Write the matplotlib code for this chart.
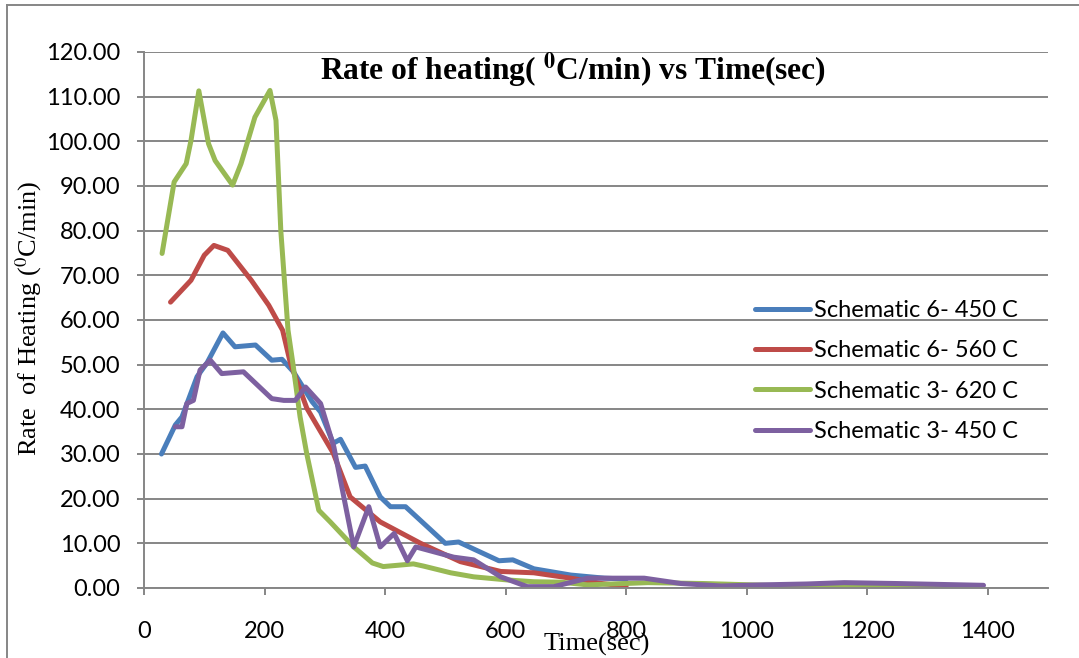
import matplotlib
matplotlib.use("Agg")
import matplotlib.pyplot as plt
from matplotlib.lines import Line2D

plt.rcParams['mathtext.fontset'] = 'stix'

# ---- data ----
t_s6_450 = [29, 52, 63, 88, 105, 131, 151, 185, 212, 229, 248, 279, 293, 314, 326,
            351, 367, 392, 409, 434, 500, 522, 589, 612, 647, 708, 764, 800]
r_s6_450 = [30.0, 36.5, 38.3, 47.3, 50.5, 57.1, 54.0, 54.4, 51.0, 51.2, 48.4, 41.7, 39.4, 32.4, 33.3,
            27.0, 27.3, 20.4, 18.2, 18.2, 10.0, 10.3, 6.1, 6.3, 4.3, 2.9, 2.2, 2.0]

t_s6_560 = [44, 78, 100, 116, 139, 178, 207, 230, 243, 270, 314, 342, 392, 459, 525,
            592, 647, 708, 760, 800]
r_s6_560 = [64.0, 68.9, 74.5, 76.7, 75.6, 68.9, 63.3, 57.7, 50.3, 40.3, 30.2, 20.4, 14.8, 10.0, 5.9,
            3.7, 3.4, 2.2, 1.0, 0.4]

t_s3_620 = [30, 50, 70, 78, 91, 107, 118, 147, 161, 184, 209, 219, 227, 239, 247,
            259, 270, 290, 309, 348, 379, 397, 447, 464, 509, 547, 603, 647, 692,
            736, 836, 930, 1060, 1200, 1353]
r_s3_620 = [74.9, 90.9, 95.0, 100.2, 111.3, 99.5, 95.7, 90.2, 95.0, 105.4, 111.4, 104.7, 80.0, 57.7, 50.3,
            38.3, 30.1, 17.4, 14.8, 9.2, 5.6, 4.8, 5.4, 4.9, 3.4, 2.5, 1.8, 1.4, 1.3,
            0.7, 1.2, 1.0, 0.5, 0.3, 0.1]

t_s3_450 = [52, 63, 71, 82, 93, 110, 129, 165, 212, 232, 251, 268, 293, 315, 348,
            373, 392, 415, 437, 451, 514, 547, 592, 636, 680, 736, 830, 891, 958,
            1024, 1100, 1162, 1250, 1393]
r_s3_450 = [36.1, 36.1, 41.3, 42.0, 48.8, 51.0, 48.0, 48.4, 42.4, 42.0, 42.0, 45.0, 41.3, 31.6, 9.2,
            18.2, 9.2, 12.2, 6.1, 9.2, 6.9, 6.3, 2.5, 0.3, 0.3, 2.2, 2.2, 1.0, 0.45,
            0.7, 0.9, 1.2, 1.0, 0.6]

series_labels = ["Schematic 6- 450 C", "Schematic 6- 560 C",
                 "Schematic 3- 620 C", "Schematic 3- 450 C"]
series_colors = ["#4A7EBB", "#BE4B48", "#98B954", "#7D60A0"]

x_ticks = [0, 200, 400, 600, 800, 1000, 1200, 1400]
y_ticks = list(range(0, 121, 10))

W, H = 1079, 658
grid_col = "#868686"
sans = "Lato"
serif = "Liberation Serif"

fig = plt.figure(figsize=(W / 100, H / 100), dpi=100)
ax = fig.add_axes([144 / W, 1 - 588 / H, (1048 - 144) / W, (588 - 52) / H])

series = [(t_s6_450, r_s6_450), (t_s6_560, r_s6_560),
          (t_s3_620, r_s3_620), (t_s3_450, r_s3_450)]
handles = []
for (t, r), lab, col in zip(series, series_labels, series_colors):
    ln, = ax.plot(t, r, color=col, lw=3.6, label=lab,
                  solid_capstyle='round', solid_joinstyle='round')
    handles.append(ln)

ax.set_xlim(0, 1500)
ax.set_ylim(0, 120)
ax.set_xticks(x_ticks)
ax.set_yticks(y_ticks)
ax.set_yticklabels([f"{v:.2f}" for v in y_ticks])
ax.yaxis.grid(True, color=grid_col, lw=1.4)
ax.set_axisbelow(True)
for s in ['top', 'right']:
    ax.spines[s].set_visible(False)
for s in ['left', 'bottom']:
    ax.spines[s].set_color(grid_col)
    ax.spines[s].set_linewidth(1.4)
ax.tick_params(axis='x', direction='out', length=5, width=1.4, color=grid_col,
               labelsize=17, pad=19)
ax.tick_params(axis='y', direction='out', length=5, width=1.4, color=grid_col,
               labelsize=17, pad=12)
for lbl in ax.get_xticklabels() + ax.get_yticklabels():
    lbl.set_fontfamily(sans)

leg = ax.legend(handles=handles, loc='upper left',
                bbox_to_anchor=(755 / W, 1 - 300 / H), bbox_transform=fig.transFigure,
                frameon=False, prop={'family': sans, 'size': 17},
                handlelength=2.33, handletextpad=0.15, labelspacing=0.82,
                borderpad=0, borderaxespad=0)

fig.text(573 / W, 1 - 80 / H, r"Rate of heating( $^{\mathbf{0}}$C/min) vs Time(sec)",
         ha='center', va='baseline', family=serif, weight='bold', fontsize=22.7)
fig.text(29 / W, 1 - 318 / H, r"Rate  of Heating ($^{0}$C/min)", rotation=90,
         ha='center', va='center', family=serif, fontsize=19)
fig.text(597 / W, 1 - 651 / H, "Time(sec)", ha='center', va='baseline',
         family=serif, fontsize=19)

# outer chart frame
fig.add_artist(Line2D([7 / W, 7 / W], [0, 1 - 5 / H], transform=fig.transFigure,
                      color=grid_col, lw=1.4))
fig.add_artist(Line2D([7 / W, 1], [1 - 5 / H, 1 - 5 / H], transform=fig.transFigure,
                      color=grid_col, lw=1.4))

fig.savefig("out.png", dpi=100)
